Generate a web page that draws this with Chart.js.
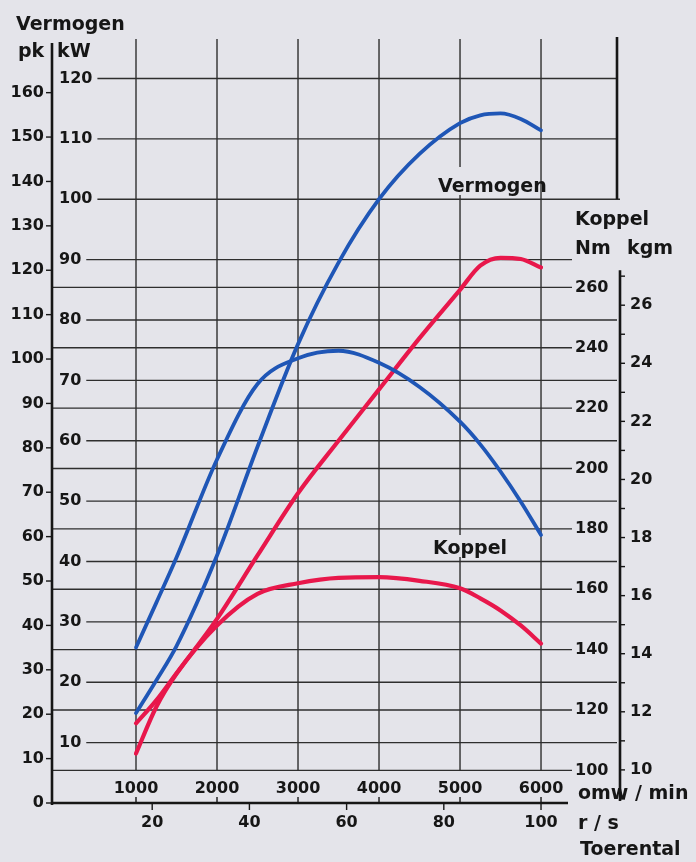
<!DOCTYPE html>
<html>
<head>
<meta charset="utf-8">
<title>Vermogen en koppel</title>
<script src="https://cdn.jsdelivr.net/npm/chart.js@4.4.1/dist/chart.umd.min.js"></script>
<style>
  html, body { margin: 0; padding: 0; background: #e4e4ea; }
  canvas { display: block; }
</style>
</head>
<body>
<canvas id="engineChart" width="696" height="862"></canvas>
<script>
const rpm = [1000, 1250, 1500, 2000, 2500, 3000, 3500, 4000, 4500, 5000, 5250, 5500, 5750, 6000];

// blue engine
const bluePowerKw  = [14.9, 20.3, 26.0, 41.0, 59.0, 76.0, 89.5, 100.0, 107.5, 112.6, 113.9, 114.2, 113.3, 111.4];
const blueTorqueNm = [140.7, 155.5, 170.5, 203.0, 228.0, 236.5, 239.0, 235.0, 227.0, 215.5, 208.0, 199.0, 189.0, 178.0];

// red engine
const redPowerKw  = [13.2, 17.0, 21.5, 30.5, 41.0, 51.3, 60.0, 68.5, 77.0, 85.0, 89.0, 90.3, 90.1, 88.7];
const redTorqueNm = [105.6, 121.0, 132.0, 148.0, 158.5, 162.0, 163.8, 164.0, 162.8, 160.3, 157.0, 153.0, 148.0, 142.0];

// tick labels
const pkTicks  = [0, 10, 20, 30, 40, 50, 60, 70, 80, 90, 100, 110, 120, 130, 140, 150, 160];
const kwTicks  = [10, 20, 30, 40, 50, 60, 70, 80, 90, 100, 110, 120];
const nmTicks  = [100, 120, 140, 160, 180, 200, 220, 240, 260];
const kgmTicks = [10, 12, 14, 16, 18, 20, 22, 24, 26];
const rpmTicks = [1000, 2000, 3000, 4000, 5000, 6000];
const rsTicks  = [20, 40, 60, 80, 100];

const FONT = "'DejaVu Sans', sans-serif";
const INK = '#161616';
const GRID = '#2e2e2e';
const BG = '#e4e4ea';
const BLUE = '#1f56b6';
const RED = '#e8174b';

function toPoints(xs, ys) {
    return xs.map((v, i) => ({ x: v, y: ys[i] }));
}

function line(ctx, x1, y1, x2, y2) {
    ctx.beginPath();
    ctx.moveTo(x1, y1);
    ctx.lineTo(x2, y2);
    ctx.stroke();
}

const diagramPlugin = {
    id: 'diagram',
    beforeDatasetsDraw(chart) {
        const { ctx, chartArea } = chart;
        const { x, rs, kw, pk, nm, kgm } = chart.scales;
        const left = chartArea.left;
        const right = chartArea.right;
        const nmEnd = 572;
        const kgmTop = kgm.getPixelForValue(27.2);

        ctx.save();
        ctx.strokeStyle = GRID;
        ctx.lineWidth = 1.4;

        // Nm grid lines, from the left axis up to the Nm labels
        nmTicks.forEach(v => {
            const y = nm.getPixelForValue(v);
            line(ctx, left, y, nmEnd, y);
        });

        // kW grid lines, starting after their label
        ctx.font = 'bold 16px ' + FONT;
        kwTicks.forEach(v => {
            const y = kw.getPixelForValue(v);
            const start = 59 + ctx.measureText(String(v)).width + 5;
            let end = right - 3;
            if (v === 100) end = right;
            else if (v < 100 && y < kgmTop) end = nmEnd;
            line(ctx, start, y, end, y);
        });

        // rpm grid lines
        const gridBottom = nm.getPixelForValue(100);
        rpmTicks.forEach(v => {
            const px = x.getPixelForValue(v);
            line(ctx, px, chartArea.top + 1, px, gridBottom);
        });

        // clear the grid behind the two curve labels
        ctx.fillStyle = BG;
        ctx.fillRect(434, 167, 96, 28);
        ctx.fillRect(430, 535, 86, 22);

        // axes
        ctx.strokeStyle = INK;
        ctx.lineWidth = 2.6;
        line(ctx, left, 43, left, chartArea.bottom + 2);
        line(ctx, left - 1, chartArea.bottom, 568, chartArea.bottom);
        line(ctx, right, kgmTop, right, chartArea.bottom - 2);
        line(ctx, right - 3, chartArea.top - 1, right - 3, kw.getPixelForValue(100));

        // small ticks
        ctx.lineWidth = 1.4;
        pkTicks.forEach(v => {
            const y = pk.getPixelForValue(v);
            line(ctx, left - 6, y, left, y);
        });
        for (let k = 9; k <= 27; k++) {
            const y = kgm.getPixelForValue(k);
            line(ctx, right, y, right + 5, y);
        }
        rpmTicks.forEach(v => {
            const px = x.getPixelForValue(v);
            line(ctx, px, chartArea.bottom - 6, px, chartArea.bottom);
        });
        rsTicks.forEach(v => {
            const px = rs.getPixelForValue(v);
            line(ctx, px, chartArea.bottom, px, chartArea.bottom + 7);
        });
        ctx.restore();
    },
    afterDatasetsDraw(chart) {
        const { ctx } = chart;
        const { x, rs, kw, pk, nm, kgm } = chart.scales;

        ctx.save();
        ctx.fillStyle = INK;

        // tick labels
        ctx.font = 'bold 16px ' + FONT;
        ctx.textBaseline = 'middle';
        ctx.textAlign = 'right';
        pkTicks.forEach(v => ctx.fillText(String(v), 44, pk.getPixelForValue(v)));
        ctx.textAlign = 'left';
        kwTicks.forEach(v => ctx.fillText(String(v), 59, kw.getPixelForValue(v)));
        nmTicks.forEach(v => ctx.fillText(String(v), 575, nm.getPixelForValue(v)));
        kgmTicks.forEach(v => ctx.fillText(String(v), 630, kgm.getPixelForValue(v)));
        ctx.textAlign = 'center';
        rpmTicks.forEach(v => ctx.fillText(String(v), x.getPixelForValue(v), 789));
        rsTicks.forEach(v => ctx.fillText(String(v), rs.getPixelForValue(v), 823));

        // titles
        ctx.font = 'bold 19px ' + FONT;
        ctx.textBaseline = 'alphabetic';
        ctx.textAlign = 'left';
        ctx.fillText('Vermogen', 16, 30);
        ctx.fillText('pk', 18, 57);
        ctx.fillText('kW', 57, 57);
        ctx.fillText('Vermogen', 438, 192);
        ctx.fillText('Koppel', 433, 554);
        ctx.fillText('Koppel', 575, 225);
        ctx.fillText('Nm', 575, 254);
        ctx.fillText('kgm', 627, 254);
        ctx.fillText('omw / min', 578, 799);
        ctx.fillText('r / s', 578, 829);
        ctx.fillText('Toerental', 580, 855);
        ctx.restore();
    }
};

const curveStyle = {
    pointRadius: 0,
    pointHoverRadius: 0,
    fill: false,
    cubicInterpolationMode: 'monotone',
    borderCapStyle: 'round',
    borderJoinStyle: 'round'
};

new Chart(document.getElementById('engineChart').getContext('2d'), {
    type: 'line',
    data: {
        datasets: [
            { ...curveStyle, label: 'Vermogen (blauw)', data: toPoints(rpm, bluePowerKw),
              borderColor: BLUE, borderWidth: 3.8, xAxisID: 'x', yAxisID: 'kw' },
            { ...curveStyle, label: 'Koppel (blauw)', data: toPoints(rpm, blueTorqueNm),
              borderColor: BLUE, borderWidth: 3.8, xAxisID: 'x', yAxisID: 'nm' },
            { ...curveStyle, label: 'Vermogen (rood)', data: toPoints(rpm, redPowerKw),
              borderColor: RED, borderWidth: 4.2, xAxisID: 'x', yAxisID: 'kw' },
            { ...curveStyle, label: 'Koppel (rood)', data: toPoints(rpm, redTorqueNm),
              borderColor: RED, borderWidth: 4.2, xAxisID: 'x', yAxisID: 'nm' }
        ]
    },
    options: {
        responsive: false,
        animation: false,
        events: [],
        layout: {
            padding: { left: 52, right: 76, top: 38, bottom: 59 }
        },
        scales: {
            x:   { type: 'linear', axis: 'x', position: 'bottom', min: -37, max: 6975, display: false },
            rs:  { type: 'linear', axis: 'x', position: 'bottom', min: -37 / 60, max: 6975 / 60, display: false },
            kw:  { type: 'linear', axis: 'y', position: 'left', min: 0, max: 126.7, display: false },
            pk:  { type: 'linear', axis: 'y', position: 'left', min: 0, max: 126.7 * 1.36, display: false },
            nm:  { type: 'linear', axis: 'y', position: 'right', min: 89.2, max: 342.6, display: false },
            kgm: { type: 'linear', axis: 'y', position: 'right', min: 8.86, max: 35.2, display: false }
        },
        plugins: {
            legend: { display: false },
            tooltip: { enabled: false }
        }
    },
    plugins: [diagramPlugin]
});
</script>
</body>
</html>
